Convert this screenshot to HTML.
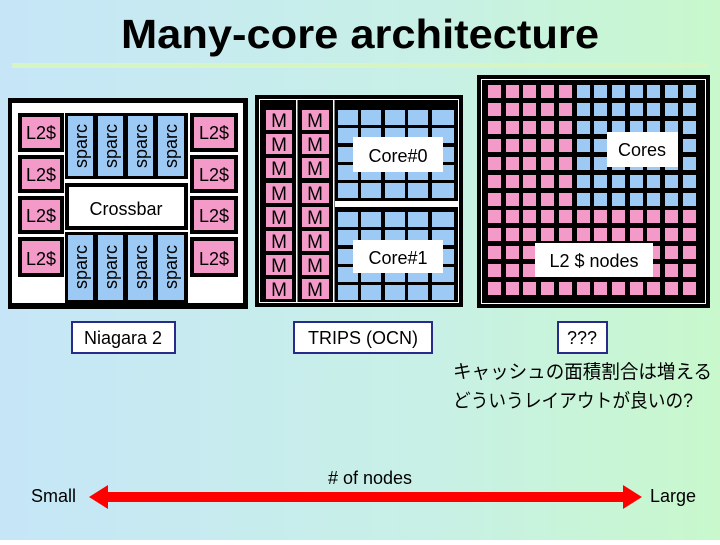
<!DOCTYPE html>
<html><head><meta charset="utf-8"><style>
html,body{margin:0;padding:0}
body{width:720px;height:540px;overflow:hidden}
text{font-family:"Liberation Sans","Noto Sans CJK JP",sans-serif}
</style></head><body>
<svg width="720" height="540" viewBox="0 0 720 540" xmlns="http://www.w3.org/2000/svg">
<defs>
<linearGradient id="bg" x1="0" y1="0" x2="1" y2="0">
<stop offset="0" stop-color="#c6e6f8"/><stop offset="0.6" stop-color="#c8f0e6"/><stop offset="1" stop-color="#c8f8cc"/>
</linearGradient>
</defs>
<rect width="720" height="540" fill="url(#bg)"/>
<text x="360" y="48" font-size="41" font-weight="bold" text-anchor="middle" textLength="478" lengthAdjust="spacingAndGlyphs">Many-core architecture</text>
<rect x="12" y="63" width="696" height="5" fill="#d6f5c4"/>

<!-- Niagara -->
<rect x="8" y="98" width="240" height="211" fill="#000"/>
<rect x="12" y="103" width="231" height="200" fill="#fff"/>
<g fill="#000">
<rect x="18" y="113" width="46" height="39"/><rect x="18" y="155" width="46" height="38"/>
<rect x="18" y="196" width="46" height="38"/><rect x="18" y="237" width="46" height="40"/>
<rect x="190" y="113" width="48" height="39"/><rect x="190" y="155" width="48" height="38"/>
<rect x="190" y="196" width="48" height="38"/><rect x="190" y="237" width="48" height="40"/>
<rect x="65" y="113" width="123" height="66"/>
<rect x="65" y="183" width="123" height="47"/>
<rect x="65" y="232" width="123" height="71"/>
</g>
<g fill="#f49ac8">
<rect x="22" y="117" width="38" height="31"/><rect x="22" y="159" width="38" height="30"/>
<rect x="22" y="200" width="38" height="30"/><rect x="22" y="241" width="38" height="32"/>
<rect x="194" y="117" width="40" height="31"/><rect x="194" y="159" width="40" height="30"/>
<rect x="194" y="200" width="40" height="30"/><rect x="194" y="241" width="40" height="32"/>
</g>
<rect x="69" y="187" width="115" height="39" fill="#fff"/>
<g fill="#9ccaf4">
<rect x="68" y="116" width="25" height="60"/><rect x="98" y="116" width="25" height="60"/>
<rect x="128" y="116" width="25" height="60"/><rect x="158" y="116" width="26" height="60"/>
<rect x="68" y="235" width="25" height="65"/><rect x="98" y="235" width="25" height="65"/>
<rect x="128" y="235" width="25" height="65"/><rect x="158" y="235" width="26" height="65"/>
</g>
<g font-size="18">
<text x="41" y="139" text-anchor="middle">L2$</text><text x="41" y="181" text-anchor="middle">L2$</text>
<text x="41" y="222" text-anchor="middle">L2$</text><text x="41" y="265" text-anchor="middle">L2$</text>
<text x="214" y="139" text-anchor="middle">L2$</text><text x="214" y="181" text-anchor="middle">L2$</text>
<text x="214" y="222" text-anchor="middle">L2$</text><text x="214" y="265" text-anchor="middle">L2$</text>
<text x="126" y="215" text-anchor="middle">Crossbar</text>
</g>
<g font-size="18">
<text transform="translate(87,146) rotate(-90)" text-anchor="middle">sparc</text>
<text transform="translate(117,146) rotate(-90)" text-anchor="middle">sparc</text>
<text transform="translate(147,146) rotate(-90)" text-anchor="middle">sparc</text>
<text transform="translate(177,146) rotate(-90)" text-anchor="middle">sparc</text>
<text transform="translate(87,267) rotate(-90)" text-anchor="middle">sparc</text>
<text transform="translate(117,267) rotate(-90)" text-anchor="middle">sparc</text>
<text transform="translate(147,267) rotate(-90)" text-anchor="middle">sparc</text>
<text transform="translate(177,267) rotate(-90)" text-anchor="middle">sparc</text>
</g>

<!-- TRIPS -->
<rect x="255" y="95" width="208" height="212" fill="#000"/>
<rect x="259.5" y="99.5" width="199" height="203" fill="none" stroke="#fff" stroke-width="1"/>
<rect x="296" y="100" width="1.5" height="202" fill="#fff"/>
<rect x="333" y="100" width="1.5" height="202" fill="#fff"/>
<rect x="335" y="201" width="124" height="6" fill="#fff"/>
<g fill="#f49ac8">
<rect x="266" y="110" width="26" height="20"/><rect x="302" y="110" width="27" height="20"/>
<rect x="266" y="134" width="26" height="20"/><rect x="302" y="134" width="27" height="20"/>
<rect x="266" y="158" width="26" height="20"/><rect x="302" y="158" width="27" height="20"/>
<rect x="266" y="183" width="26" height="20"/><rect x="302" y="183" width="27" height="20"/>
<rect x="266" y="207" width="26" height="20"/><rect x="302" y="207" width="27" height="20"/>
<rect x="266" y="231" width="26" height="20"/><rect x="302" y="231" width="27" height="20"/>
<rect x="266" y="255" width="26" height="20"/><rect x="302" y="255" width="27" height="20"/>
<rect x="266" y="279" width="26" height="20"/><rect x="302" y="279" width="27" height="20"/>
</g>
<g font-size="19" text-anchor="middle">
<text x="279" y="127">M</text><text x="315" y="127">M</text>
<text x="279" y="151">M</text><text x="315" y="151">M</text>
<text x="279" y="175">M</text><text x="315" y="175">M</text>
<text x="279" y="200">M</text><text x="315" y="200">M</text>
<text x="279" y="224">M</text><text x="315" y="224">M</text>
<text x="279" y="248">M</text><text x="315" y="248">M</text>
<text x="279" y="272">M</text><text x="315" y="272">M</text>
<text x="279" y="296">M</text><text x="315" y="296">M</text>
</g>
<g fill="#9ccaf4" id="core0">
<rect x="338" y="110" width="20" height="15"/><rect x="361" y="110" width="20" height="15"/><rect x="385" y="110" width="20" height="15"/><rect x="408" y="110" width="20" height="15"/><rect x="432" y="110" width="22" height="15"/>
<rect x="338" y="128" width="20" height="15"/><rect x="361" y="128" width="20" height="15"/><rect x="385" y="128" width="20" height="15"/><rect x="408" y="128" width="20" height="15"/><rect x="432" y="128" width="22" height="15"/>
<rect x="338" y="147" width="20" height="15"/><rect x="361" y="147" width="20" height="15"/><rect x="385" y="147" width="20" height="15"/><rect x="408" y="147" width="20" height="15"/><rect x="432" y="147" width="22" height="15"/>
<rect x="338" y="165" width="20" height="15"/><rect x="361" y="165" width="20" height="15"/><rect x="385" y="165" width="20" height="15"/><rect x="408" y="165" width="20" height="15"/><rect x="432" y="165" width="22" height="15"/>
<rect x="338" y="183" width="20" height="15"/><rect x="361" y="183" width="20" height="15"/><rect x="385" y="183" width="20" height="15"/><rect x="408" y="183" width="20" height="15"/><rect x="432" y="183" width="22" height="15"/>
</g>
<use href="#core0" transform="translate(0,102)"/>
<rect x="353" y="137" width="90" height="35" fill="#fff"/>
<rect x="353" y="240" width="90" height="33" fill="#fff"/>
<text x="398" y="162" font-size="18" text-anchor="middle">Core#0</text>
<text x="398" y="264" font-size="18" text-anchor="middle">Core#1</text>

<!-- Right grid -->
<rect x="477" y="75" width="233" height="233" fill="#000"/>
<rect x="481.5" y="79.5" width="224" height="224" fill="none" stroke="#fff" stroke-width="1"/>
<g fill="#f49ac8">
<rect x="488" y="85" width="13" height="13"/><rect x="506" y="85" width="13" height="13"/><rect x="523" y="85" width="13" height="13"/><rect x="541" y="85" width="13" height="13"/><rect x="559" y="85" width="13" height="13"/>
</g>
<g fill="#9ccaf4" id="brow">
<rect x="577" y="85" width="13" height="13"/><rect x="594" y="85" width="13" height="13"/><rect x="612" y="85" width="13" height="13"/><rect x="630" y="85" width="13" height="13"/><rect x="647" y="85" width="13" height="13"/><rect x="665" y="85" width="13" height="13"/><rect x="683" y="85" width="13" height="13"/>
</g>
<g id="prow" fill="#f49ac8">
<rect x="488" y="85" width="13" height="13"/><rect x="506" y="85" width="13" height="13"/><rect x="523" y="85" width="13" height="13"/><rect x="541" y="85" width="13" height="13"/><rect x="559" y="85" width="13" height="13"/>
</g>
<use href="#prow" transform="translate(0,18)"/><use href="#brow" transform="translate(0,18)"/>
<use href="#prow" transform="translate(0,36)"/><use href="#brow" transform="translate(0,36)"/>
<use href="#prow" transform="translate(0,54)"/><use href="#brow" transform="translate(0,54)"/>
<use href="#prow" transform="translate(0,72)"/><use href="#brow" transform="translate(0,72)"/>
<use href="#prow" transform="translate(0,90)"/><use href="#brow" transform="translate(0,90)"/>
<use href="#prow" transform="translate(0,108)"/><use href="#brow" transform="translate(0,108)"/>
<g id="frow" fill="#f49ac8">
<rect x="488" y="210" width="13" height="13"/><rect x="506" y="210" width="13" height="13"/><rect x="523" y="210" width="13" height="13"/><rect x="541" y="210" width="13" height="13"/><rect x="559" y="210" width="13" height="13"/><rect x="577" y="210" width="13" height="13"/><rect x="594" y="210" width="13" height="13"/><rect x="612" y="210" width="13" height="13"/><rect x="630" y="210" width="13" height="13"/><rect x="647" y="210" width="13" height="13"/><rect x="665" y="210" width="13" height="13"/><rect x="683" y="210" width="13" height="13"/>
</g>
<use href="#frow" transform="translate(0,18)"/><use href="#frow" transform="translate(0,36)"/>
<use href="#frow" transform="translate(0,54)"/><use href="#frow" transform="translate(0,72)"/>
<rect x="607" y="132" width="71" height="35" fill="#fff"/>
<rect x="535" y="243" width="118" height="34" fill="#fff"/>
<text x="642" y="156" font-size="18" text-anchor="middle">Cores</text>
<text x="594" y="267" font-size="18" text-anchor="middle">L2 $ nodes</text>

<!-- labels -->
<rect x="72" y="322" width="103" height="31" fill="#fff" stroke="#2a2a8a" stroke-width="2"/>
<text x="123" y="344" font-size="18" text-anchor="middle">Niagara 2</text>
<rect x="294" y="322" width="138" height="31" fill="#fff" stroke="#2a2a8a" stroke-width="2"/>
<text x="363" y="344" font-size="18" text-anchor="middle">TRIPS (OCN)</text>
<rect x="558" y="322" width="49" height="31" fill="#fff" stroke="#2a2a8a" stroke-width="2"/>
<text x="582" y="344" font-size="18" text-anchor="middle">???</text>
<text x="453" y="378" font-size="19" textLength="259" lengthAdjust="spacingAndGlyphs">キャッシュの面積割合は増える</text>
<text x="453" y="407" font-size="19" textLength="240" lengthAdjust="spacingAndGlyphs">どういうレイアウトが良いの?</text>

<!-- arrow -->
<polygon points="89,497 108,485 108,492 623,492 623,485 642,497 623,509 623,502 108,502 108,509" fill="#f00"/>
<text x="370" y="484" font-size="18" text-anchor="middle">#  of nodes</text>
<text x="31" y="502" font-size="18">Small</text>
<text x="650" y="502" font-size="18">Large</text>
</svg>
</body></html>
